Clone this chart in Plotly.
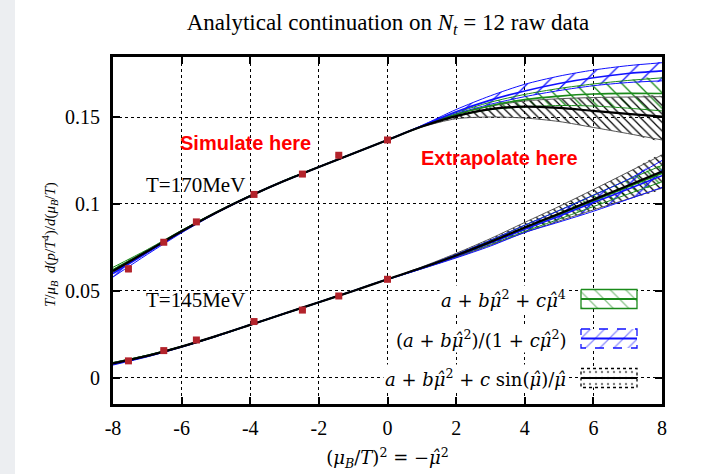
import plotly.graph_objects as go

# ---------------- data ----------------
X_GRID = [-8, -7, -6, -5, -4, -3, -2, -1, 0, 1, 2, 3, 4, 5, 6, 7, 8]

# lattice points (mu_B/T)^2
X_PTS = [-7.55, -6.52, -5.57, -3.89, -2.48, -1.42, 0.0]
Y170_PTS = [0.0627, 0.0780, 0.0897, 0.1055, 0.1172, 0.1280, 0.1368]
E170_PTS = [0.0015, 0.0006, 0.0005, 0.0007, 0.0005, 0.0006, 0.0004]
Y145_PTS = [0.0098, 0.0157, 0.0218, 0.0324, 0.0390, 0.0471, 0.0567]
E145_PTS = [0.0005, 0.0004, 0.0004, 0.0006, 0.0004, 0.0005, 0.0003]

# T = 170 MeV fits
BLACK170_C = [0.0615, 0.0728, 0.0843, 0.0950, 0.1046, 0.1133, 0.1213, 0.1290, 0.1368, 0.1445, 0.1505, 0.1545, 0.1560, 0.1552, 0.1535, 0.1518, 0.1502]
BLACK170_LO = [0.0607, 0.0722, 0.0839, 0.0947, 0.1044, 0.1131, 0.1212, 0.1289, 0.1368, 0.1442, 0.1490, 0.1500, 0.1494, 0.1474, 0.1440, 0.1405, 0.1368]
BLACK170_HI = [0.0623, 0.0734, 0.0847, 0.0953, 0.1048, 0.1135, 0.1214, 0.1291, 0.1368, 0.1448, 0.1516, 0.1562, 0.1592, 0.1605, 0.1612, 0.1615, 0.1617]
GREEN170_C = [0.0622, 0.0731, 0.0845, 0.0951, 0.1047, 0.1134, 0.1213, 0.1290, 0.1368, 0.1447, 0.1515, 0.1565, 0.1600, 0.1620, 0.1632, 0.1636, 0.1635]
GREEN170_LO = [0.0608, 0.0724, 0.0841, 0.0949, 0.1045, 0.1132, 0.1212, 0.1289, 0.1368, 0.1445, 0.1505, 0.1542, 0.1558, 0.1566, 0.1563, 0.1551, 0.1535]
GREEN170_HI = [0.0636, 0.0738, 0.0849, 0.0953, 0.1049, 0.1136, 0.1214, 0.1291, 0.1368, 0.1449, 0.1525, 0.1585, 0.1630, 0.1664, 0.1690, 0.1710, 0.1725]
BLUE170_C = [0.0600, 0.0720, 0.0840, 0.0949, 0.1046, 0.1133, 0.1213, 0.1290, 0.1368, 0.1449, 0.1530, 0.1597, 0.1650, 0.1693, 0.1726, 0.1750, 0.1765]
BLUE170_LO = [0.0580, 0.0710, 0.0834, 0.0946, 0.1044, 0.1132, 0.1212, 0.1289, 0.1368, 0.1447, 0.1519, 0.1573, 0.1617, 0.1652, 0.1680, 0.1698, 0.1708]
BLUE170_HI = [0.0620, 0.0730, 0.0846, 0.0952, 0.1048, 0.1134, 0.1214, 0.1291, 0.1368, 0.1451, 0.1543, 0.1622, 0.1688, 0.1735, 0.1770, 0.1795, 0.1812]

# T = 145 MeV fits
BLACK145_C = [0.0084, 0.0127, 0.0180, 0.0240, 0.0305, 0.0370, 0.0435, 0.0500, 0.0567, 0.0633, 0.0704, 0.0782, 0.0865, 0.0944, 0.1025, 0.1105, 0.1186]
BLACK145_LO = [0.0080, 0.0124, 0.0178, 0.0238, 0.0304, 0.0369, 0.0434, 0.0500, 0.0567, 0.0628, 0.0693, 0.0763, 0.0836, 0.0902, 0.0966, 0.1028, 0.1092]
BLACK145_HI = [0.0088, 0.0130, 0.0182, 0.0242, 0.0306, 0.0371, 0.0436, 0.0500, 0.0567, 0.0638, 0.0716, 0.0801, 0.0894, 0.0986, 0.1083, 0.1182, 0.1282]
GREEN145_C = [0.0085, 0.0128, 0.0180, 0.0240, 0.0305, 0.0370, 0.0435, 0.0500, 0.0567, 0.0632, 0.0702, 0.0779, 0.0860, 0.0938, 0.1018, 0.1097, 0.1176]
GREEN145_LO = [0.0081, 0.0125, 0.0178, 0.0238, 0.0304, 0.0369, 0.0434, 0.0500, 0.0567, 0.0629, 0.0695, 0.0767, 0.0842, 0.0913, 0.0985, 0.1056, 0.1128]
GREEN145_HI = [0.0089, 0.0131, 0.0182, 0.0242, 0.0306, 0.0371, 0.0436, 0.0500, 0.0567, 0.0635, 0.0709, 0.0791, 0.0878, 0.0963, 0.1051, 0.1138, 0.1222]
BLUE145_C = [0.0080, 0.0125, 0.0179, 0.0240, 0.0305, 0.0370, 0.0435, 0.0500, 0.0567, 0.0631, 0.0700, 0.0775, 0.0854, 0.0930, 0.1008, 0.1085, 0.1163]
BLUE145_LO = [0.0074, 0.0121, 0.0177, 0.0238, 0.0304, 0.0369, 0.0434, 0.0500, 0.0567, 0.0627, 0.0690, 0.0758, 0.0836, 0.0896, 0.0958, 0.1026, 0.1095]
BLUE145_HI = [0.0086, 0.0129, 0.0181, 0.0242, 0.0306, 0.0371, 0.0436, 0.0500, 0.0567, 0.0635, 0.0710, 0.0792, 0.0878, 0.0962, 0.1050, 0.1140, 0.1250]

X_TICKS = [-8, -6, -4, -2, 0, 2, 4, 6, 8]
X_TICKTEXT = ["-8", "-6", "-4", "-2", "0", "2", "4", "6", "8"]
Y_TICKS = [0, 0.05, 0.1, 0.15]
Y_TICKTEXT = ["0", "0.05", "0.1", "0.15"]

MUHAT = "<i>μ̂</i>"
LEGEND_LABELS = [
    "<i>a</i> + <i>b</i>" + MUHAT + "<sup>2</sup> + <i>c</i>" + MUHAT + "<sup>4</sup>",
    "(<i>a</i> + <i>b</i>" + MUHAT + "<sup>2</sup>)/(1 + <i>c</i>" + MUHAT + "<sup>2</sup>)",
    "<i>a</i> + <i>b</i>" + MUHAT + "<sup>2</sup> + <i>c</i> sin(" + MUHAT + ")/" + MUHAT,
]

# ---------------- styles ----------------
SERIF = "Liberation Serif"
MATH = "DejaVu Serif"
GREEN = "#1a8a1a"
BLUE = "#1010ff"
BLACK = "#000000"
RED_PT = "#b3232b"

MODELS = [
    dict(color=GREEN, edge=GREEN, shape="\\", size=11, solidity=0.12, cw=1.6,
         sets=[(GREEN170_C, GREEN170_LO, GREEN170_HI), (GREEN145_C, GREEN145_LO, GREEN145_HI)]),
    dict(color=BLACK, edge="#555555", shape="\\", size=6, solidity=0.2, cw=2.2,
         sets=[(BLACK170_C, BLACK170_LO, BLACK170_HI), (BLACK145_C, BLACK145_LO, BLACK145_HI)]),
    dict(color=BLUE, edge=BLUE, shape="/", size=13, solidity=0.1, cw=1.6,
         sets=[(BLUE170_C, BLUE170_LO, BLUE170_HI), (BLUE145_C, BLUE145_LO, BLUE145_HI)]),
]

fig = go.Figure()

# bands
for m in MODELS:
    for c, lo, hi in m["sets"]:
        fig.add_trace(go.Scatter(
            x=X_GRID + X_GRID[::-1], y=hi + lo[::-1], mode="lines",
            fill="toself", fillcolor="rgba(0,0,0,0)",
            fillpattern=dict(shape=m["shape"], fgcolor=m["color"], bgcolor="rgba(0,0,0,0)",
                             size=m["size"], solidity=m["solidity"], fgopacity=1),
            line=dict(width=0, shape="spline", smoothing=0.6),
            hoverinfo="skip", showlegend=False))
for m in MODELS:
    for c, lo, hi in m["sets"]:
        for edge in (lo, hi):
            fig.add_trace(go.Scatter(x=X_GRID, y=edge, mode="lines",
                                     line=dict(color=m["edge"], width=1, shape="spline", smoothing=0.8),
                                     hoverinfo="skip", showlegend=False))
for m in [MODELS[0], MODELS[2], MODELS[1]]:
    for c, lo, hi in m["sets"]:
        fig.add_trace(go.Scatter(x=X_GRID, y=c, mode="lines",
                                 line=dict(color=m["color"], width=m["cw"], shape="spline", smoothing=0.8),
                                 hoverinfo="skip", showlegend=False))

# data points
for ys, es in [(Y170_PTS, E170_PTS), (Y145_PTS, E145_PTS)]:
    fig.add_trace(go.Scatter(
        x=X_PTS, y=ys, mode="markers",
        marker=dict(symbol="square", size=7, color=RED_PT),
        error_y=dict(type="data", array=es, color=RED_PT, thickness=1.5, width=3),
        showlegend=False))

# ---------------- custom legend (pixel axis) ----------------
PX_L, PX_R, PX_T, PX_B = 113, 662, 57, 404
BOX_X0, BOX_X1 = 581, 637
ROW_Y = [299, 338.5, 378]
BOX_H = 9.5
LEG_STYLE = [
    dict(color=GREEN, dash="solid", shape="\\", size=11, solidity=0.12),
    dict(color=BLUE, dash="dash", shape="/", size=10, solidity=0.12),
    dict(color=BLACK, dash="dot", shape=".", size=6, solidity=0.12),
]
for yc, st in zip(ROW_Y, LEG_STYLE):
    fig.add_trace(go.Scatter(
        x=[BOX_X0, BOX_X1, BOX_X1, BOX_X0, BOX_X0],
        y=[yc - BOX_H, yc - BOX_H, yc + BOX_H, yc + BOX_H, yc - BOX_H],
        xaxis="x2", yaxis="y2", mode="lines", fill="toself", fillcolor="rgba(0,0,0,0)",
        fillpattern=dict(shape=st["shape"], fgcolor=st["color"], bgcolor="white",
                         size=st["size"], solidity=st["solidity"]),
        line=dict(color=st["color"], width=1.3, dash=st["dash"]),
        hoverinfo="skip", showlegend=False))
    fig.add_trace(go.Scatter(x=[BOX_X0, BOX_X1], y=[yc, yc], xaxis="x2", yaxis="y2",
                             mode="lines", line=dict(color=st["color"], width=2),
                             hoverinfo="skip", showlegend=False))

annotations = []
for yc, lab in zip(ROW_Y, LEGEND_LABELS):
    annotations.append(dict(x=568, y=yc, xref="x2", yref="y2", text=lab, showarrow=False,
                            xanchor="right", yanchor="middle",
                            font=dict(family=MATH, size=18, color="black"), bgcolor="white"))

annotations += [
    dict(x=-4.15, y=0.135, xref="x", yref="y", text="<b>Simulate here</b>", showarrow=False,
         font=dict(family="Liberation Sans", size=20, color="#ff0000")),
    dict(x=3.25, y=0.1264, xref="x", yref="y", text="<b>Extrapolate here</b>", showarrow=False,
         font=dict(family="Liberation Sans", size=20, color="#ff0000")),
    dict(x=-5.6, y=0.111, xref="x", yref="y", text="T=170MeV", showarrow=False,
         font=dict(family=SERIF, size=21, color="black")),
    dict(x=-5.6, y=0.0448, xref="x", yref="y", text="T=145MeV", showarrow=False,
         font=dict(family=SERIF, size=21, color="black")),
    dict(x=(38 - PX_L) / (PX_R - PX_L), y=(PX_B - 245) / (PX_B - PX_T), xref="paper", yref="paper",
         text="<i>T</i>/<i>μ<sub>B</sub></i>  <i>d</i>(<i>p</i>/<i>T</i><sup>4</sup>)/<i>d</i>(<i>μ<sub>B</sub></i>/<i>T</i>)",
         textangle=-90, showarrow=False, font=dict(family=SERIF, size=15, color="black")),
]

axis_common = dict(showline=True, linewidth=3, linecolor="black", mirror="allticks",
                   ticks="inside", ticklen=7, tickwidth=2, tickcolor="black",
                   showgrid=True, gridcolor="black", griddash="dot", gridwidth=1.2,
                   zeroline=False, automargin=False,
                   tickfont=dict(family=SERIF, size=20, color="black"))

fig.update_layout(
    width=708, height=474,
    margin=dict(l=PX_L, r=708 - PX_R, t=PX_T, b=474 - PX_B),
    paper_bgcolor="white", plot_bgcolor="white",
    title=dict(text="Analytical continuation on <i>N<sub>t</sub></i> = 12 raw data",
               x=388 / 708, xanchor="center", y=(474 - 22) / 474, yanchor="middle",
               font=dict(family=SERIF, size=23, color="black")),
    xaxis=dict(range=[-8, 8], tickvals=X_TICKS, ticktext=X_TICKTEXT, ticklabelstandoff=4,
               title=dict(text="(<i>μ<sub>B</sub></i>/<i>T</i>)<sup>2</sup> = −" + MUHAT + "<sup>2</sup>",
                          font=dict(family=MATH, size=18, color="black"), standoff=14),
               **axis_common),
    yaxis=dict(range=[-0.015, 0.1845], tickvals=Y_TICKS, ticktext=Y_TICKTEXT, ticklabelstandoff=6,
               **axis_common),
    xaxis2=dict(range=[PX_L, PX_R], overlaying="x", anchor="y2", visible=False, domain=[0, 1]),
    yaxis2=dict(range=[PX_B, PX_T], overlaying="y", anchor="x2", visible=False, domain=[0, 1]),
    annotations=annotations,
    shapes=[dict(type="rect", xref="paper", yref="paper",
                 x0=-PX_L / (PX_R - PX_L), x1=(15 - PX_L) / (PX_R - PX_L),
                 y0=-(474 - PX_B) / (PX_B - PX_T), y1=1 + PX_T / (PX_B - PX_T),
                 fillcolor="#eceef1", line=dict(width=0), layer="below")],
    showlegend=False,
)

fig.write_html("out.html")
